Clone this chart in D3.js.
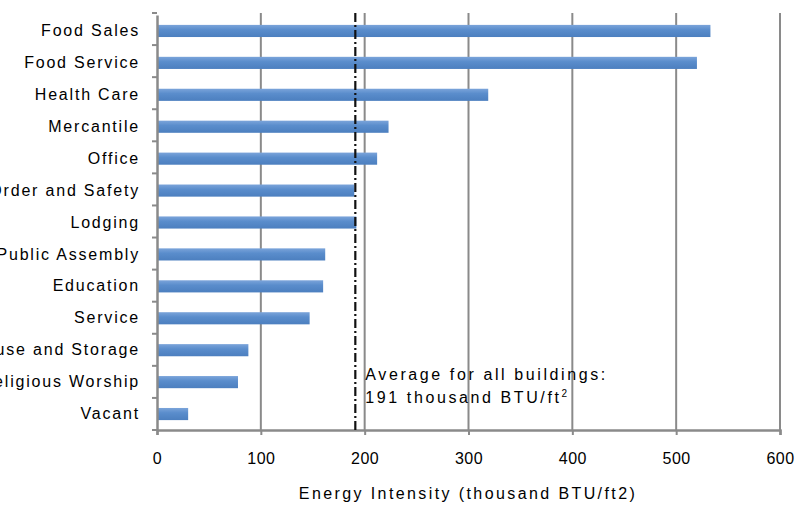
<!DOCTYPE html>
<html><head><meta charset="utf-8">
<script src="https://cdn.jsdelivr.net/npm/d3@7"></script>
<style>
body{margin:0;background:#fff;}
svg{display:block;font-family:"Liberation Sans",Arial,sans-serif;}
</style></head>
<body><svg id="c" width="796" height="507"></svg>
<script>
const categories = ["Food Sales","Food Service","Health Care","Mercantile","Office","Public Order and Safety","Lodging","Public Assembly","Education","Service","Warehouse and Storage","Religious Worship","Vacant"];
const values = [533, 520, 319, 223, 212, 190, 192, 162, 160, 147, 88, 78, 30];
const xTicks = [0, 100, 200, 300, 400, 500, 600];
const averageValue = 191;
const averageLines = ["Average for all buildings:", "191 thousand BTU/ft"];
const xTitle = "Energy Intensity (thousand BTU/ft2)";

const svg = d3.select("#c");
const pLeft = 157, pRight = 780, pTop = 13, pBottom = 430;
const x = d3.scaleLinear().domain([0, 600]).range([pLeft, pRight]);
const y = d3.scaleBand().domain(categories).range([pTop + 2, pBottom]).paddingInner(0.62).paddingOuter(0.31);

const defs = svg.append("defs");
const g = defs.append("linearGradient").attr("id","bg").attr("x1",0).attr("y1",0).attr("x2",0).attr("y2",1);
g.append("stop").attr("offset","0%").attr("stop-color","#7ba4da");
g.append("stop").attr("offset","40%").attr("stop-color","#5a8dcc");
g.append("stop").attr("offset","100%").attr("stop-color","#4c7fbf");

// gridlines
svg.append("g").selectAll("line").data(xTicks.filter(d => d > 0)).join("line")
  .attr("x1", d => x(d)).attr("x2", d => x(d))
  .attr("y1", pTop).attr("y2", pBottom)
  .attr("stroke", "#8a8a8a").attr("stroke-width", 2);

// bars
svg.append("g").selectAll("rect").data(categories).join("rect")
  .attr("x", x(0)).attr("y", d => y(d))
  .attr("width", (d, i) => x(values[i]) - x(0))
  .attr("height", y.bandwidth())
  .attr("fill", "url(#bg)");

// x axis
const xAxis = d3.axisBottom(x).tickValues(xTicks).tickSize(5).tickPadding(18).tickFormat(d3.format("d"));
const xa = svg.append("g").attr("transform", `translate(0,${pBottom})`).call(xAxis);
xa.select(".domain").attr("stroke", "#8a8a8a").attr("stroke-width", 2.5);
xa.selectAll(".tick line").attr("stroke", "#8a8a8a").attr("stroke-width", 2);
xa.selectAll(".tick text").attr("font-size", 16).attr("fill", "#000").attr("letter-spacing", "0.5px")
  .attr("font-family", "'Liberation Sans',Arial,sans-serif");

// y axis
const yAxis = d3.axisLeft(y).tickSize(0).tickPadding(17);
const ya = svg.append("g").attr("transform", `translate(${pLeft},0)`).call(yAxis);
ya.select(".domain").attr("stroke", "#8a8a8a").attr("stroke-width", 2.5);
ya.selectAll(".tick text").attr("font-size", 16).attr("fill", "#000")
  .attr("letter-spacing", "1.8px")
  .attr("font-family", "'Liberation Sans',Arial,sans-serif");
// category boundary ticks
const bounds = d3.range(categories.length + 1).map(i => pTop + i * (pBottom - pTop) / categories.length);
svg.append("g").selectAll("line").data(bounds).join("line")
  .attr("x1", pLeft - 5).attr("x2", pLeft).attr("y1", d => d).attr("y2", d => d)
  .attr("stroke", "#8a8a8a").attr("stroke-width", 2);

// average line
svg.append("line")
  .attr("x1", x(averageValue)).attr("x2", x(averageValue))
  .attr("y1", pTop).attr("y2", pBottom)
  .attr("stroke", "#111").attr("stroke-width", 2.2)
  .attr("stroke-dasharray", "9,3,2,3");

const ann = svg.append("text").attr("font-size", 16).attr("fill", "#000").attr("letter-spacing", "2.6px");
ann.append("tspan").attr("x", x(averageValue) + 10).attr("y", 380).text(averageLines[0]);
ann.append("tspan").attr("x", x(averageValue) + 10).attr("y", 403).text(averageLines[1]);
ann.append("tspan").attr("font-size", 10).attr("dy", -6).text("2");

// x title
svg.append("text").attr("x", 468).attr("y", 499).attr("text-anchor", "middle")
  .attr("font-size", 16).attr("letter-spacing", "2.4px").attr("fill", "#000").text(xTitle);
</script></body></html>
